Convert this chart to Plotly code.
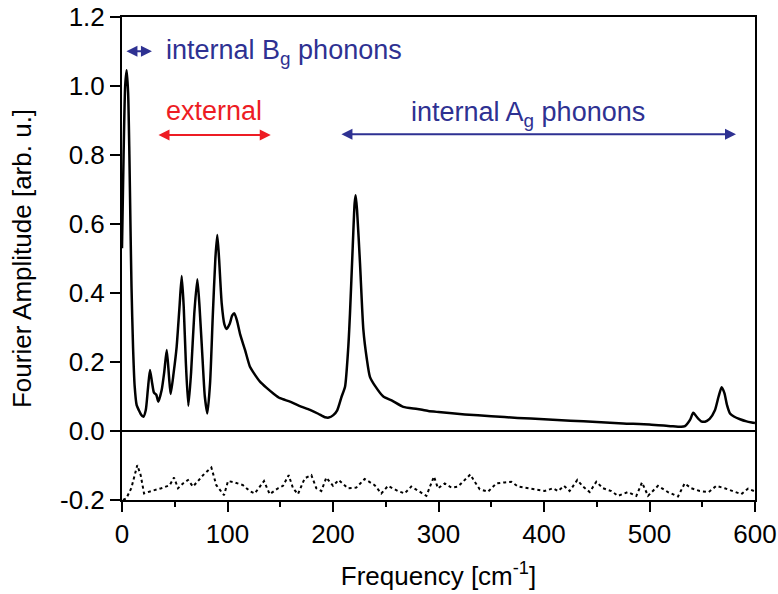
import plotly.graph_objects as go

# Main Fourier amplitude spectrum
freq = [0, 1.5, 3, 4.4, 5.8, 7.0, 8.0, 9.0, 10.5, 12.0, 13.9, 16, 18, 20.2, 22.5, 24.5, 26.5, 28.5,
        30.3, 32.5, 34.4, 37.6, 40, 42.4, 44.5, 46.1, 49, 51.8, 54.5, 56.6, 58.5, 60.5, 62.9, 65.5,
        68.5, 71.4, 73.5, 76.5, 78.5, 80.9, 83.5, 86, 88.5, 90.3, 92, 94.5, 97, 99.2, 102, 104.5,
        106.5, 109, 112, 116.6, 121.3, 124.5, 130.8, 137.1, 143.4, 149.8, 159.2, 168, 178.2, 186,
        192.4, 196, 200.3, 204, 208.2, 211.4, 214.5, 216.1, 218.7, 220.5, 221.5, 222.8, 225.6,
        228.8, 232, 235, 240, 247.7, 256, 266.6, 280, 290.3, 300, 325, 350, 375, 400, 425, 450,
        475, 500, 520, 530, 533.6, 538.4, 541.5, 545, 549, 552.6, 557, 562, 565.5, 568.4, 571,
        573.5, 576.3, 580, 585.8, 592, 598.4, 600]
amplitude = [0.53, 0.80, 1.00, 1.046, 0.98, 0.80, 0.60, 0.42, 0.24, 0.13, 0.075, 0.06, 0.048, 0.041,
             0.06, 0.12, 0.177, 0.14, 0.111, 0.105, 0.085, 0.119, 0.17, 0.235, 0.16, 0.107, 0.17,
             0.244, 0.36, 0.449, 0.36, 0.20, 0.073, 0.17, 0.34, 0.44, 0.36, 0.20, 0.10, 0.051, 0.14,
             0.33, 0.50, 0.568, 0.50, 0.37, 0.31, 0.296, 0.31, 0.335, 0.341, 0.32, 0.28, 0.235,
             0.186, 0.17, 0.143, 0.125, 0.109, 0.095, 0.085, 0.073, 0.061, 0.05, 0.040, 0.039,
             0.046, 0.06, 0.10, 0.128, 0.244, 0.341, 0.534, 0.66, 0.683, 0.64, 0.486, 0.293, 0.21,
             0.157, 0.13, 0.10, 0.088, 0.07, 0.064, 0.058, 0.055, 0.048, 0.043, 0.038, 0.034, 0.030,
             0.026, 0.022, 0.019, 0.014, 0.012, 0.014, 0.032, 0.053, 0.04, 0.028, 0.027, 0.035,
             0.06, 0.10, 0.127, 0.11, 0.075, 0.051, 0.042, 0.034, 0.028, 0.024, 0.023]

# Dotted residual/noise trace (offset below zero)
noise_freq = [1, 4.1, 8.8, 14.5, 17.7, 20.9, 27.8, 37.3, 45.2, 49.3, 53.1, 57.8, 62.6, 67.3, 72,
              76.8, 84.7, 89.4, 96.7, 100.5, 106.8, 114.7, 121, 125.8, 134.6, 140, 147.9, 152.6,
              158, 162.1, 166.8, 173.2, 179.5, 184.2, 188.9, 193.7, 200, 205.4, 214.2, 222.1, 230,
              239.5, 245.8, 252.1, 261.6, 267.9, 274.2, 282.2, 288.5, 295.7, 299.5, 305.9, 312.2,
              318.5, 324.8, 330.2, 334.3, 339.1, 346.9, 354.8, 362.8, 369, 375.4, 383.3, 391.1,
              400.6, 408.5, 413.3, 419, 424.3, 431.6, 437, 443.3, 449.6, 455.9, 463.8, 470.1,
              479.6, 487.5, 492.9, 498.6, 508, 517.5, 527, 533.3, 539.6, 547.6, 556.1, 563.3,
              571.3, 579.1, 587, 593.4, 599]
noise_amp = [-0.2, -0.195, -0.166, -0.099, -0.128, -0.181, -0.174, -0.166, -0.157, -0.135, -0.166,
             -0.152, -0.142, -0.161, -0.145, -0.128, -0.106, -0.157, -0.186, -0.145, -0.149,
             -0.157, -0.174, -0.181, -0.145, -0.183, -0.166, -0.159, -0.128, -0.166, -0.183,
             -0.137, -0.128, -0.166, -0.174, -0.135, -0.159, -0.142, -0.166, -0.164, -0.139,
             -0.157, -0.181, -0.159, -0.174, -0.181, -0.161, -0.177, -0.188, -0.132, -0.166,
             -0.152, -0.164, -0.161, -0.142, -0.126, -0.147, -0.169, -0.176, -0.152, -0.149,
             -0.147, -0.161, -0.164, -0.169, -0.174, -0.166, -0.174, -0.159, -0.174, -0.142,
             -0.161, -0.177, -0.147, -0.166, -0.174, -0.188, -0.177, -0.188, -0.149, -0.188,
             -0.159, -0.177, -0.190, -0.152, -0.166, -0.174, -0.177, -0.159, -0.166, -0.174,
             -0.183, -0.167, -0.174]

x_ticks = [0, 100, 200, 300, 400, 500, 600]
y_ticks = [-0.2, 0.0, 0.2, 0.4, 0.6, 0.8, 1.0, 1.2]
y_tick_labels = ["-0.2", "0.0", "0.2", "0.4", "0.6", "0.8", "1.0", "1.2"]

BLUE = "#2e3192"
RED = "#ed1c24"
FONT = "Liberation Sans, Arial, sans-serif"

fig = go.Figure()
fig.add_trace(go.Scatter(x=freq, y=amplitude, mode="lines",
                         line=dict(color="black", width=2.5, shape="spline", smoothing=0.6),
                         showlegend=False, hoverinfo="skip"))
fig.add_trace(go.Scatter(x=noise_freq, y=noise_amp, mode="lines",
                         line=dict(color="black", width=2, dash="dot"),
                         showlegend=False, hoverinfo="skip"))

# Double-headed arrows
arrows = [
    dict(x0=2.8, x1=28.4, y=1.101, color=BLUE),
    dict(x0=33.2, x1=141, y=0.858, color=RED),
    dict(x0=206.6, x1=582, y=0.86, color=BLUE),
]
for a in arrows:
    fig.add_annotation(x=a["x1"], y=a["y"], ax=a["x0"], ay=a["y"], xref="x", yref="y",
                       axref="x", ayref="y", text="", showarrow=True, arrowhead=2,
                       startarrowhead=2, arrowside="end+start", arrowsize=1.1,
                       startarrowsize=1.1, arrowwidth=2, arrowcolor=a["color"])

labels = [
    dict(x=39.8, y=1.10, text="internal B<sub>g</sub> phonons", color=BLUE),
    dict(x=39.8, y=0.928, text="external", color=RED),
    dict(x=272.5, y=0.918, text="internal A<sub>g</sub> phonons", color=BLUE),
]
for l in labels:
    fig.add_annotation(x=l["x"], y=l["y"], xref="x", yref="y", text=l["text"], showarrow=False,
                       xanchor="left", yanchor="middle",
                       font=dict(family=FONT, size=27, color=l["color"]))

axis_common = dict(showline=True, linecolor="black", linewidth=2, mirror=True, ticks="outside",
                   ticklen=10, tickwidth=2, tickcolor="black", showgrid=False, automargin=False,
                   ticklabeloverflow="allow",
                   tickfont=dict(family=FONT, size=26, color="black"))

fig.update_xaxes(range=[0, 600], tickvals=x_ticks, zeroline=False,
                 minor=dict(dtick=50, ticklen=5, tickwidth=2, ticks="outside", tickcolor="black"),
                 title=dict(text="Frequency [cm<sup>-1</sup>]", standoff=19,
                            font=dict(family=FONT, size=26, color="black")),
                 **axis_common)
fig.update_yaxes(range=[-0.2, 1.2], tickvals=y_ticks, ticktext=y_tick_labels,
                 zeroline=True, zerolinecolor="black", zerolinewidth=1.5,
                 title=dict(text="Fourier Amplitude [arb. u.]", standoff=21,
                            font=dict(family=FONT, size=26, color="black")),
                 **axis_common)

fig.update_layout(width=778, height=594, margin=dict(l=122, r=23, t=17, b=94),
                  plot_bgcolor="white", paper_bgcolor="white",
                  font=dict(family=FONT, color="black"))

# Remove the default 8 px page margin so the figure sits at the window's corner
fig.write_html("out.html", config={"displayModeBar": False},
               post_script="document.body.style.margin='0';")
